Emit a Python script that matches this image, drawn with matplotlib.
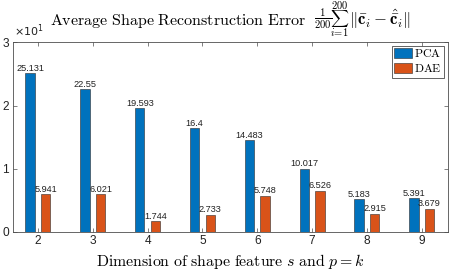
import numpy as np
import matplotlib
matplotlib.use('Agg')
import matplotlib.pyplot as plt

plt.rcParams['mathtext.fontset'] = 'cm'
plt.rcParams['font.family'] = ['Liberation Sans', 'DejaVu Sans']

dims = [2, 3, 4, 5, 6, 7, 8, 9]
pca = [25.131, 22.55, 19.593, 16.4, 14.483, 10.017, 5.183, 5.391]
dae = [5.941, 6.021, 1.744, 2.733, 5.748, 6.526, 2.915, 3.679]
pca_labels = ['25.131', '22.55', '19.593', '16.4', '14.483', '10.017', '5.183', '5.391']
dae_labels = ['5.941', '6.021', '1.744', '2.733', '5.748', '6.526', '2.915', '3.679']

blue = '#0072BD'
orange = '#D95319'
axcol = '#4d4d4d'
W, H = 449, 271

def fx(px):
    return px / W

def fy(py):
    return 1 - py / H

fig = plt.figure(figsize=(4.49, 2.71), dpi=100)
ax = fig.add_axes([fx(12.5), fy(232), 435 / W, 189.7 / H])

x = np.array(dims, dtype=float)
w = 0.17
off = 0.143
ax.bar(x - off, pca, w, color=blue, edgecolor='#2b2b2b', linewidth=0.4, label=r'$\mathrm{PCA}$')
ax.bar(x + off, dae, w, color=orange, edgecolor='#2b2b2b', linewidth=0.4, label=r'$\mathrm{DAE}$')

for xi, v, s in zip(x - off, pca, pca_labels):
    ax.text(xi, v + 0.05, s, ha='center', va='bottom', fontsize=6.6, color='#222222')
for xi, v, s in zip(x + off, dae, dae_labels):
    ax.text(xi, v + 0.05, s, ha='center', va='bottom', fontsize=6.6, color='#222222')

ax.set_xlim(1.535, 9.47)
ax.set_ylim(0, 30)
ax.set_xticks(dims)
ax.set_xticklabels([str(d) for d in dims])
ax.set_yticks([0, 10, 20, 30])
ax.set_yticklabels(['0', '1', '2', '3'])
ax.tick_params(direction='in', length=3, width=0.5, colors=axcol, labelcolor='#222222',
               labelsize=8.6, top=True, right=True, pad=2.5)
for sp in ax.spines.values():
    sp.set_color(axcol)
    sp.set_linewidth(0.6)

fig.text(fx(14), fy(36), r'$\times10^{1}$', fontsize=8, ha='left', va='baseline',
         color='#222222', math_fontfamily='dejavusans')

# title, built in pieces so the sum gets its limits above and below
fig.text(fx(50), fy(25), r'$\mathrm{Average\ Shape\ Reconstruction\ Error}$',
         fontsize=11.5, ha='left', va='baseline')
fig.text(fx(323), fy(18.5), r'$\frac{1}{200}$', fontsize=11, ha='center', va='center')
fig.text(fx(339.5), fy(19), r'$\sum$', fontsize=9, ha='center', va='center')
fig.text(fx(339.5), fy(5), r'$200$', fontsize=7.5, ha='center', va='center')
fig.text(fx(339.5), fy(31.5), r'$i\!=\!1$', fontsize=7.5, ha='center', va='center')
fig.text(fx(349), fy(25), r'$\Vert\bar{\mathbf{c}}_i-\hat{\bar{\mathbf{c}}}_i\Vert$',
         fontsize=12, ha='left', va='baseline')

fig.text(fx(230), fy(266), r'$\mathrm{Dimension\ of\ shape\ feature}\ s\ \mathrm{and}\ p=k$',
         fontsize=11.4, ha='center', va='baseline')

leg = ax.legend(loc='upper right', prop={'size': 8.5},
                fancybox=False, framealpha=1, edgecolor='#262626',
                handlelength=1.5, handleheight=0.9, handletextpad=0.2,
                borderpad=0.2, labelspacing=0.25, borderaxespad=0.3)
leg.get_frame().set_linewidth(0.5)

fig.savefig('out.png', dpi=100)
